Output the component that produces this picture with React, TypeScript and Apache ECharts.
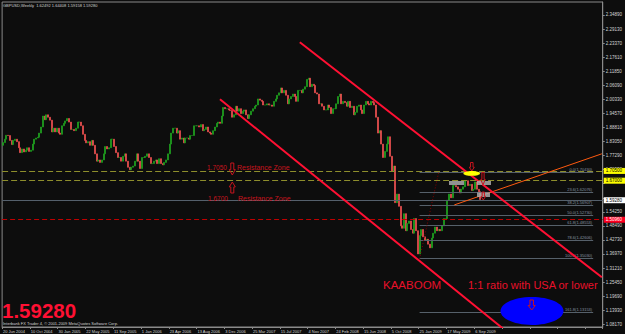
import React, { useEffect, useRef } from 'react';
import * as echarts from 'echarts';

// ---------- data ----------
const HEADER = 'GBPUSD,Weekly  1.62492 1.64408 1.59158 1.59280';
const COPYRIGHT = 'Interbank FX Trader 4, \u00A9 2001-2009 MetaQuotes Software Corp.';
const LAST_PRICE = '1.59280';

const WEEK_COUNT = 346; // weekly slots on the x axis (incl. right-hand shift)
const X_TICK_STEP = 16;
const X_TICK_LABELS = [
  '20 Jun 2004', '10 Oct 2004', '30 Jan 2005', '22 May 2005', '11 Sep 2005', '1 Jan 2006',
  '23 Apr 2006', '13 Aug 2006', '3 Dec 2006', '25 Mar 2007', '15 Jul 2007', '4 Nov 2007',
  '24 Feb 2008', '15 Jun 2008', '5 Oct 2008', '25 Jan 2009', '17 May 2009', '6 Sep 2009',
];

const Y_MIN = 1.0706;
const Y_MAX = 2.4021;
const Y_TICKS = [
  1.0817, 1.1393, 1.1969, 1.2545, 1.3121, 1.3697, 1.4273, 1.4849, 1.5425, 1.6001, 1.6577, 1.7153,
  1.7729, 1.8305, 1.8881, 1.9457, 2.0033, 2.0609, 2.1185, 2.1761, 2.2337, 2.2913, 2.3489,
];
// tick labels that are covered by the coloured price boxes on the axis
const Y_LABELS = [
  1.0817, 1.1393, 1.1969, 1.2545, 1.3121, 1.3697, 1.4273, 1.4849, 1.5425, 1.7153,
  1.7729, 1.8305, 1.8881, 1.9457, 2.0033, 2.0609, 2.1185, 2.1761, 2.2337, 2.2913, 2.3489,
];

const FIRST_OPEN = 1.815;
const WEEKLY_CLOSES = [
  1.8260, 1.8400, 1.8560, 1.8550, 1.8350, 1.8180, 1.8350, 1.8400, 1.8300, 1.8050,
  1.7850, 1.8000, 1.7880, 1.7950, 1.8050, 1.7900, 1.7950, 1.8200, 1.8400, 1.8450,
  1.8480, 1.8650, 1.8900, 1.9350, 1.9200, 1.9400, 1.9300, 1.9180, 1.8700, 1.8850,
  1.8700, 1.8850, 1.8650, 1.8600, 1.8950, 1.9050, 1.9150, 1.9250, 1.9100, 1.8800,
  1.8800, 1.8750, 1.8850, 1.9100, 1.9100, 1.8950, 1.8600, 1.8350, 1.8250, 1.8300,
  1.8150, 1.8350, 1.8150, 1.7800, 1.7500, 1.7550, 1.7450, 1.7550, 1.7800, 1.8100,
  1.8000, 1.8050, 1.8400, 1.8400, 1.8100, 1.7850, 1.7650, 1.7650, 1.7500, 1.7700,
  1.7800, 1.7500, 1.7250, 1.7150, 1.7250, 1.7300, 1.7500, 1.7800, 1.7500, 1.7200,
  1.7650, 1.7650, 1.7700, 1.7800, 1.7650, 1.7400, 1.7400, 1.7500, 1.7550, 1.7400,
  1.7600, 1.7400, 1.7350, 1.7450, 1.7550, 1.7800, 1.8200, 1.8650, 1.8850, 1.8850,
  1.8650, 1.8750, 1.8400, 1.8450, 1.8250, 1.8450, 1.8450, 1.8400, 1.8550, 1.8550,
  1.8950, 1.8950, 1.8950, 1.8900, 1.9000, 1.8750, 1.8800, 1.8900, 1.8700, 1.8650,
  1.8600, 1.8750, 1.8900, 1.9050, 1.9100, 1.9050, 1.9350, 1.9700, 1.9650, 1.9650,
  1.9600, 1.9580, 1.9300, 1.9400, 1.9750, 1.9550, 1.9650, 1.9450, 1.9550, 1.9600,
  1.9400, 1.9250, 1.9400, 1.9550, 1.9650, 1.9750, 1.9800, 2.0050, 2.0000, 1.9950,
  1.9800, 1.9800, 1.9850, 1.9800, 1.9800, 1.9750, 1.9950, 2.0050, 2.0200, 2.0300,
  2.0500, 2.0300, 2.0400, 2.0200, 1.9850, 2.0050, 2.0150, 2.0250, 2.0150, 1.9950,
  2.0400, 2.0400, 2.0300, 2.0450, 2.0550, 2.0850, 2.0900, 2.0550, 2.0650, 2.0600,
  2.0300, 2.0250, 1.9850, 1.9850, 1.9750, 1.9600, 1.9600, 1.9800, 1.9700, 1.9450,
  1.9650, 1.9650, 1.9850, 2.0150, 2.0250, 1.9850, 1.9950, 1.9900, 1.9750, 1.9950,
  1.9700, 1.9750, 1.9400, 1.9500, 1.9750, 1.9800, 1.9600, 1.9450, 1.9800, 1.9950,
  1.9850, 1.9800, 1.9950, 1.9900, 1.9800, 1.9300, 1.8650, 1.8750, 1.8200, 1.7650,
  1.7900, 1.8200, 1.8500, 1.7700, 1.7100, 1.7300, 1.5800, 1.6150, 1.5650, 1.4850,
  1.4750, 1.5350, 1.4650, 1.4950, 1.5050, 1.4700, 1.4550, 1.5150, 1.4650, 1.3700,
  1.4450, 1.4700, 1.4400, 1.4250, 1.4300, 1.4100, 1.3950, 1.4350, 1.4550, 1.4800,
  1.4650, 1.4700, 1.4650, 1.4850, 1.5150, 1.5150, 1.5900, 1.6150, 1.6000, 1.6500,
  1.6500, 1.6450, 1.6350, 1.6200, 1.6350, 1.6450, 1.6700, 1.6700, 1.6500, 1.6550,
  1.6300, 1.6350, 1.6650, 1.6350, 1.62492, 1.5928,
];

// horizontal levels
const RESIST_HIGH = 1.705;
const RESIST_LOW = 1.67;
const BID = 1.5928;
const RED_LEVEL = 1.5096;

// trend lines: [week index, price]
const CHANNEL_LOWER = [[125, 2.0037], [288, 1.0645]];
const CHANNEL_UPPER = [[171, 2.237], [345, 1.2742]];
const ORANGE_LINE = [[260, 1.5708], [345, 1.7802]];
const FIB_DIAGONAL = [[240, 1.3503], [251, 1.7043]];

// fibonacci retracement
const FIB_START = 240;
const FIB_END = 340;
const FIB_LEVELS = ['0.0', '23.6', '38.2', '50.0', '61.8', '78.6', '100.0', '161.8'];
const FIB_PRICES = [1.7043, 1.62076, 1.56907, 1.5273, 1.48553, 1.42606, 1.3503, 1.13153];

// ---------- styles ----------
const BG = '#0d0d0d';
const FRAME = '#8a8a8a';
const TXT = '#d4d4d4';
const BULL = '#1fa51f';
const BEAR = '#f25252';
const RED = '#ff1033';
const DARK_RED = '#c8141e';
const FONT = '"Liberation Sans", Arial, sans-serif';

function arrow(cx: number, top: number, bottom: number, w: number, dir: 'up' | 'down') {
  const sw = w * 0.25;
  const hw = w * 0.5;
  const h = bottom - top;
  let pts: number[][];
  if (dir === 'down') {
    const mid = top + h * 0.55;
    pts = [[cx - sw, top], [cx + sw, top], [cx + sw, mid], [cx + hw, mid], [cx, bottom], [cx - hw, mid], [cx - sw, mid]];
  } else {
    const mid = bottom - h * 0.55;
    pts = [[cx - sw, bottom], [cx + sw, bottom], [cx + sw, mid], [cx + hw, mid], [cx, top], [cx - hw, mid], [cx - sw, mid]];
  }
  return {
    type: 'polygon', z: 120, silent: true,
    shape: { points: pts },
    style: { fill: 'none', stroke: DARK_RED, lineWidth: 1 },
  };
}

function txt(x: number, y: number, text: string, size: number, color: string, weight = 'normal') {
  return {
    type: 'text', x, y, z: 120, silent: true,
    style: { text, fill: color, font: `${weight} ${size}px ${FONT}`, align: 'left', verticalAlign: 'middle' },
  };
}

export default function App() {
  const ref = useRef<HTMLDivElement>(null);

  useEffect(() => {
    if (!ref.current) return;
    const chart = echarts.init(ref.current, undefined, { renderer: 'svg' });

    const cats = Array.from({ length: WEEK_COUNT }, (_, i) => String(i));
    const candles = WEEKLY_CLOSES.map((c, i) => {
      const o = i === 0 ? FIRST_OPEN : WEEKLY_CLOSES[i - 1];
      return [o, c, Math.min(o, c), Math.max(o, c)];
    });

    const levelLine = (v: number, color: string, type: any, box: string | null, boxColor: string, boxText: string) => ({
      yAxis: v,
      lineStyle: { color, type, width: 1 },
      label: box
        ? {
            show: true, position: 'end', distance: 1, formatter: box,
            backgroundColor: boxColor, color: boxText, fontSize: 4.5, fontFamily: FONT,
            padding: [0.5, 4, 0.5, 2],
          }
        : { show: false },
    });

    const fibLines = FIB_PRICES.map((p, k) => [
      {
        coord: [FIB_START, p],
        lineStyle: { color: '#56606a', width: 1, type: 'solid' },
        label: {
          show: true, position: 'insideEndTop', distance: 1,
          formatter: `${FIB_LEVELS[k]}(${p.toFixed(5)})`,
          color: '#8894a0', fontSize: 4, fontFamily: FONT,
        },
      },
      { coord: [FIB_END, p] },
    ]);

    const trend = (data: number[][], color: string, width: number, type: any = 'solid') => ({
      type: 'line', data, symbol: 'none', silent: true, z: 5,
      lineStyle: { color, width, type }, clip: true,
    });

    const option: any = {
      animation: false,
      backgroundColor: BG,
      grid: { left: 2, right: 17, top: 2, bottom: 7, show: true, borderColor: FRAME, borderWidth: 1, backgroundColor: BG },
      xAxis: {
        type: 'category',
        data: cats,
        boundaryGap: true,
        axisLine: { show: true, lineStyle: { color: FRAME } },
        axisTick: { show: true, interval: (i: number) => i % X_TICK_STEP === 0, length: 2, lineStyle: { color: FRAME } },
        axisLabel: {
          interval: (i: number) => i % X_TICK_STEP === 0,
          formatter: (_v: string, i: number) => X_TICK_LABELS[i / X_TICK_STEP] ?? '',
          align: 'left', color: TXT, fontSize: 4, fontFamily: FONT, margin: 2,
        },
        splitLine: { show: false },
      },
      yAxis: {
        type: 'value',
        position: 'right',
        min: Y_MIN,
        max: Y_MAX,
        axisLine: { show: true, lineStyle: { color: FRAME } },
        axisTick: { show: true, customValues: Y_TICKS, length: 2, lineStyle: { color: FRAME } },
        axisLabel: {
          customValues: Y_LABELS,
          formatter: (v: number) => v.toFixed(5),
          color: TXT, fontSize: 4.5, fontFamily: FONT, margin: 3,
        },
        splitLine: { show: false },
      },
      series: [
        {
          type: 'line', data: [], silent: true, z: 1,
          markLine: {
            silent: true, symbol: ['none', 'none'], animation: false,
            data: [
              levelLine(RESIST_HIGH, '#8e8e2c', [6, 3], '1.70500', '#ffff00', '#000'),
              levelLine(RESIST_LOW, '#8e8e2c', [6, 3], '1.67000', '#ffff00', '#000'),
              levelLine(BID, '#55606c', 'solid', LAST_PRICE, '#ffffff', '#000'),
              levelLine(RED_LEVEL, '#c00000', [5, 3], '1.50960', '#ff0022', '#fff'),
              ...fibLines,
            ],
          },
        },
        {
          type: 'candlestick',
          data: candles,
          barWidth: 1.5,
          z: 3,
          silent: true,
          itemStyle: { color: BULL, color0: BEAR, borderColor: BULL, borderColor0: BEAR, borderWidth: 0.7 },
        },
        trend(FIB_DIAGONAL, '#8b0000', 1, [1, 2]),
        trend(ORANGE_LINE, '#ff5a10', 1),
        trend(CHANNEL_LOWER, RED, 2),
        trend(CHANNEL_UPPER, RED, 2),
      ],
      graphic: [
        txt(3, 5, HEADER, 4, TXT),
        txt(2, 310.5, LAST_PRICE, 20.5, RED, 'bold'),
        txt(3, 323.6, COPYRIGHT, 4, TXT),
        // resistance annotations
        txt(207, 167.5, '1.7050', 6.5, DARK_RED),
        arrow(232.3, 163, 175, 6, 'down'),
        txt(237, 167.5, 'Resistance Zone', 7, DARK_RED),
        txt(208, 198.3, '1.6700', 6.5, DARK_RED),
        arrow(232.3, 182, 193, 6, 'up'),
        txt(238, 198.3, 'Resistance Zone', 7, DARK_RED),
        // marks near the 2009 top
        { type: 'rect', z: 110, silent: true, shape: { x: 449, y: 181, width: 15, height: 4 }, style: { fill: 'rgba(170,170,170,0.85)' } },
        { type: 'rect', z: 110, silent: true, shape: { x: 477, y: 181, width: 14, height: 4 }, style: { fill: 'rgba(170,170,170,0.85)' } },
        { type: 'rect', z: 110, silent: true, shape: { x: 477, y: 192.5, width: 13, height: 4.5 }, style: { fill: 'rgba(170,170,170,0.85)' } },
        { type: 'ellipse', z: 111, silent: true, shape: { cx: 471.7, cy: 173.4, rx: 8.3, ry: 2.4 }, style: { fill: '#ffff00' } },
        arrow(471.8, 162.5, 171, 5, 'down'),
        arrow(483, 172.5, 185, 4.5, 'down'),
        arrow(483.3, 192, 200, 4.5, 'down'),
        // bottom texts
        txt(383, 285, 'KAABOOM', 11.5, '#e8102a'),
        txt(468, 285, '1:1 ratio with USA or lower', 11, '#e8102a'),
        { type: 'ellipse', z: 115, silent: true, shape: { cx: 532, cy: 311, rx: 31.5, ry: 14 }, style: { fill: '#0000ff' } },
        arrow(531.7, 300, 310, 7, 'down'),
      ],
    };

    chart.setOption(option);
    return () => chart.dispose();
  }, []);

  return (
    <div
      ref={ref}
      style={{ position: 'fixed', left: 0, top: 0, width: 625, height: 334, background: BG }}
    />
  );
}
